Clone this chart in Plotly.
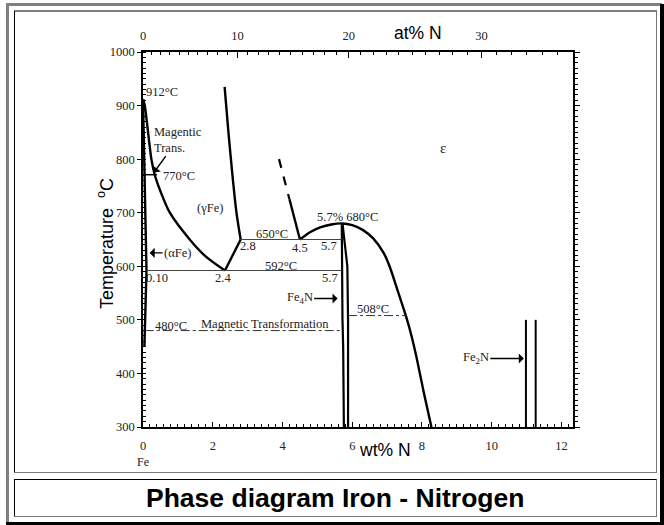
import plotly.graph_objects as go

# ---------------- data (wt% N, temperature °C) ----------------
alpha_x = [0.0, 0.02, 0.05, 0.08, 0.10, 0.07, 0.04]
alpha_t = [912, 850, 770, 680, 592, 520, 450]

ag_x = [0.0, 0.05, 0.24, 0.34, 0.50, 0.77, 1.34, 1.77, 2.35]
ag_t = [912, 900, 800, 770, 740, 700, 650, 620, 592]

g_low_x = [2.35, 2.8]
g_low_t = [592, 650]

g_up_x = [2.34, 2.45, 2.58, 2.68, 2.8]
g_up_t = [935, 850, 760, 700, 650]

eps_dash_x = [3.9, 4.05, 4.2]
eps_dash_t = [800, 762, 725]
eps_solid_x = [4.2, 4.35, 4.5]
eps_solid_t = [725, 688, 650]

dome_x = [4.5, 4.8, 5.1, 5.4, 5.7, 6.0, 6.3, 6.6, 6.9, 7.07, 7.3, 7.55, 7.7, 7.84, 8.05, 8.27]
dome_t = [650, 664, 673, 678, 680, 677, 668, 652, 625, 600, 555, 505, 470, 431, 365, 300]

fe4n_l_x = [5.70, 5.70, 5.72, 5.74, 5.76]
fe4n_l_t = [680, 592, 500, 450, 300]
fe4n_r_x = [5.72, 5.86, 5.88, 5.88]
fe4n_r_t = [680, 600, 500, 300]

fe2n_a_x = [10.98, 10.98]
fe2n_b_x = [11.26, 11.26]
fe2n_t = [300, 500]

tie650_x = [2.8, 5.7]
tie650_t = [650, 650]
tie592_x = [0.1, 5.7]
tie592_t = [592, 592]
mag480_x = [0.05, 5.74]
mag480_t = [480, 480]
mag508_x = [5.88, 7.55]
mag508_t = [508, 508]
mag770_x = [0.0, 0.4]
mag770_t = [771, 771]

wt_ticks = [0, 2, 4, 6, 8, 10, 12]
t_ticks = [300, 400, 500, 600, 700, 800, 900, 1000]
at_ticks = [0, 10, 20, 30]
at_minor = list(range(1, 36))


def at_to_wt(a):
    return 100 * 14.007 * a / (14.007 * a + 55.845 * (100 - a))


# ---------------- figure ----------------
W, H = 664, 525
L, R, T, B = 143, 573, 52, 427
XMAX = 12.33


def px(x):
    return (x - L) / (R - L)


def py(y):
    return (B - y) / (B - T)


fig = go.Figure()

thick = dict(color="black", width=2.4)
thin = dict(color="#444", width=1.1)
dd = dict(color="#333", width=1, dash="dashdot")


def add(x, y, line, spline=False):
    ln = dict(line)
    if spline:
        ln["shape"] = "spline"
        ln["smoothing"] = 0.8
    fig.add_trace(go.Scatter(x=x, y=y, mode="lines", line=ln, hoverinfo="skip", showlegend=False))


add(alpha_x, alpha_t, thick)
add(ag_x, ag_t, thick, spline=True)
add(g_low_x, g_low_t, thick)
add(g_up_x, g_up_t, thick, spline=True)
add(eps_dash_x, eps_dash_t, dict(color="black", width=2.2, dash="dash"))
add(eps_solid_x, eps_solid_t, thick)
add(dome_x, dome_t, thick, spline=True)
add(fe4n_l_x, fe4n_l_t, dict(color="black", width=2.2))
add(fe4n_r_x, fe4n_r_t, dict(color="black", width=2.2))
add(fe2n_a_x, fe2n_t, dict(color="black", width=2))
add(fe2n_b_x, fe2n_t, dict(color="black", width=2))
add(tie650_x, tie650_t, thin)
add(tie592_x, tie592_t, thin)
add(mag480_x, mag480_t, dd)
add(mag508_x, mag508_t, dd)
add(mag770_x, mag770_t, dict(color="black", width=1.5))

# invisible trace for the secondary axes
fig.add_trace(go.Scatter(x=[0], y=[300], xaxis="x2", yaxis="y2", mode="markers",
                         marker=dict(opacity=0), hoverinfo="skip", showlegend=False))

tickfont = dict(family="Liberation Serif", size=12.5, color="#222")

fig.update_layout(
    width=W, height=H,
    margin=dict(l=L, r=W - R, t=T, b=H - B),
    paper_bgcolor="white", plot_bgcolor="white",
    showlegend=False,
    xaxis=dict(range=[0, XMAX], tickvals=wt_ticks, ticks="inside", ticklen=5,
               tickcolor="black", showline=True, linecolor="black", linewidth=1.5,
               showgrid=False, zeroline=False, tickfont=tickfont, ticklabelstandoff=6,
               minor=dict(dtick=0.2, ticks="inside", ticklen=3, tickcolor="black")),
    yaxis=dict(range=[300, 1000], tickvals=t_ticks, ticks="outside", ticklen=4,
               tickcolor="black", showline=True, linecolor="black", linewidth=1.5,
               showgrid=False, zeroline=False, tickfont=tickfont,
               minor=dict(dtick=10, ticks="inside", ticklen=3, tickcolor="black")),
    xaxis2=dict(overlaying="x", side="top", range=[0, XMAX],
                tickvals=[at_to_wt(a) for a in at_ticks], ticktext=[str(a) for a in at_ticks],
                ticks="inside", ticklen=6, tickcolor="black",
                showline=True, linecolor="black", linewidth=1.5,
                showgrid=False, zeroline=False, tickfont=tickfont, ticklabelstandoff=5,
                minor=dict(tickvals=[at_to_wt(a) for a in at_minor], ticks="inside",
                           ticklen=3, tickcolor="black")),
    yaxis2=dict(overlaying="y", side="right", range=[300, 1000], tickvals=t_ticks,
                showticklabels=False, ticks="outside", ticklen=5, tickcolor="black",
                showline=True, linecolor="black", linewidth=1.5,
                showgrid=False, zeroline=False,
                minor=dict(dtick=10, ticks="outside", ticklen=3, tickcolor="black")),
)

# ---------------- labels ----------------
lab = dict(family="Liberation Serif", size=12.5, color="#222")


def text(x, y, s, size=None, xanchor="center", **kw):
    f = dict(lab)
    if size:
        f["size"] = size
    fig.add_annotation(x=x, y=y, text=s, showarrow=False, font=f, xanchor=xanchor, **kw)


def arrow_text(x, y, s, ax, ay, **kw):
    fig.add_annotation(x=x, y=y, text=s, showarrow=True, ax=ax, ay=ay, font=lab,
                       arrowhead=1, arrowsize=1.2, arrowwidth=1.4, arrowcolor="black",
                       standoff=0, **kw)


text(0.02, 925, "912°C", xanchor="left")
arrow_text(0.31, 775, "Magentic<br>Trans.", 24, -33, align="left")
text(0.53, 768, "770°C", xanchor="left")
text(1.92, 708, "(γFe)")
arrow_text(0.19, 625, "(αFe)", 28, 0)
text(3.71, 661, "650°C")
text(3.0, 637, "2.8")
text(4.49, 634, "4.5")
text(5.34, 637, "5.7")
text(5.87, 692, "5.7% 680°C")
text(3.97, 600, "592°C")
text(0.39, 578, "0.10")
text(2.29, 578, "2.4")
text(5.35, 578, "5.7")
arrow_text(5.58, 540, "Fe<sub>4</sub>N", -38, 0)
text(6.6, 520, "508°C")
text(0.81, 488, "480°C")
text(3.49, 493, "Magnetic Transformation")
arrow_text(10.92, 428, "Fe<sub>2</sub>N", -48, 0)
text(8.6, 820, "ε", size=15)

# axis titles and extra texts (paper coordinates from pixel positions)
arial = "Liberation Sans"


def ptext(xp, yp, s, font, **kw):
    fig.add_annotation(x=px(xp), y=py(yp), xref="paper", yref="paper", text=s,
                       showarrow=False, xanchor="center", yanchor="middle", font=font, **kw)


ptext(385, 450, "wt% N", dict(family=arial, size=17.5, color="black"))
ptext(418, 33, "at% N", dict(family=arial, size=17.5, color="black"))
ptext(105, 244, "Temperature  <sup>o</sup>C", dict(family=arial, size=18, color="black"),
      textangle=-90)
ptext(143, 462, "Fe", dict(family="Liberation Serif", size=12, color="#222"))
ptext(335, 498, "<b>Phase diagram Iron - Nitrogen</b>", dict(family=arial, size=26.5, color="black"))


# ---------------- frame decorations ----------------
def rect(x0, y0, x1, y1, color):
    fig.add_shape(type="rect", xref="paper", yref="paper",
                  x0=px(x0), x1=px(x1), y0=py(y0), y1=py(y1),
                  fillcolor=color, line=dict(width=0), layer="above")


def hline(x0, x1, y, color, w=1):
    fig.add_shape(type="line", xref="paper", yref="paper",
                  x0=px(x0), x1=px(x1), y0=py(y), y1=py(y),
                  line=dict(color=color, width=w), layer="above")


def vline(x, y0, y1, color, w=1):
    fig.add_shape(type="line", xref="paper", yref="paper",
                  x0=px(x), x1=px(x), y0=py(y0), y1=py(y1),
                  line=dict(color=color, width=w), layer="above")


rect(6, 3, 662, 6, "#808080")
rect(6, 3, 9, 525, "#808080")
rect(660, 4, 664, 525, "black")
rect(6, 522, 664, 525, "black")

hline(14, 657, 11, "black")
vline(14.5, 11, 473, "black")
vline(656.5, 11, 473, "#777")
hline(14, 657, 472.5, "#777")

hline(14, 657, 479.5, "black")
vline(14.5, 479.5, 517, "black")
vline(656.5, 479.5, 517, "#777")
hline(14, 657, 516.5, "#777")

fig.write_html("out.html", config={"displayModeBar": False},
               post_script="document.body.style.margin='0px';")
